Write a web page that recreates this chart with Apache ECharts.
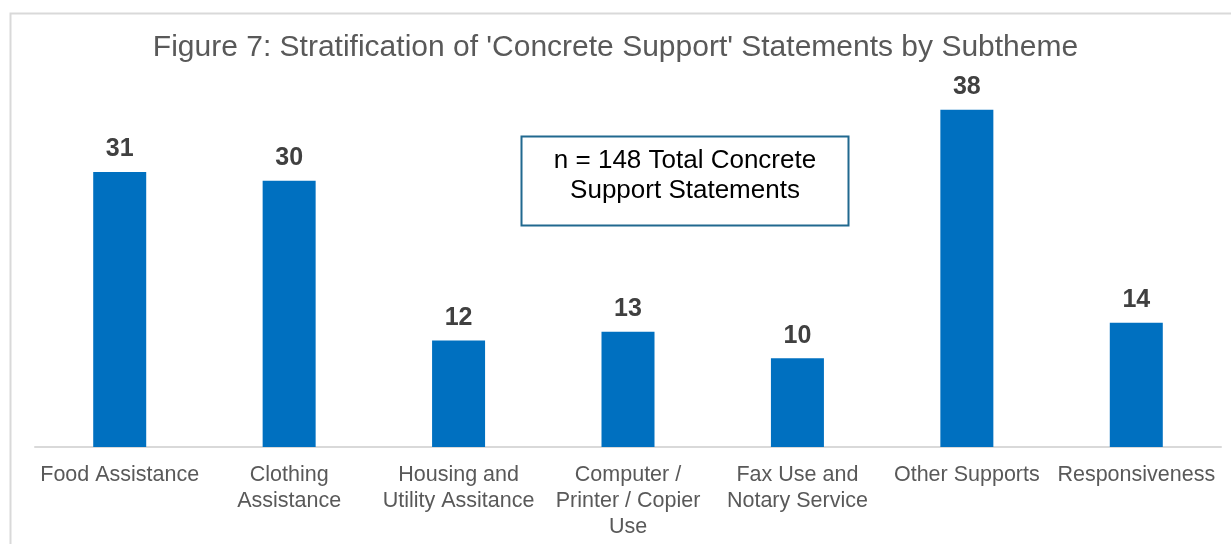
<!DOCTYPE html>
<html>
<head>
<meta charset="utf-8">
<script src="https://cdn.jsdelivr.net/npm/echarts@6/dist/echarts.min.js"></script>
<style>
  html, body { margin: 0; padding: 0; background: #fff; }
  #chart { width: 1231px; height: 544px; }
</style>
</head>
<body>
<div id="chart"></div>
<script>
// Subtheme categories (line breaks as shown on the axis)
const categories = [
  'Food Assistance',
  'Clothing\nAssistance',
  'Housing and\nUtility Assitance',
  'Computer /\nPrinter / Copier\nUse',
  'Fax Use and\nNotary Service',
  'Other Supports',
  'Responsiveness'
];
// Number of statements per subtheme
const counts = [31, 30, 12, 13, 10, 38, 14];

const titleText = "Figure 7: Stratification of 'Concrete Support' Statements by Subtheme";
const noteLines = ['n = 148 Total Concrete', 'Support Statements'];

const chart = echarts.init(document.getElementById('chart'), null, { renderer: 'canvas' });

chart.setOption({
  animation: false,
  backgroundColor: '#fff',
  title: {
    text: titleText,
    left: 'center',
    top: 28,
    textStyle: {
      fontFamily: 'Liberation Sans, Arial, sans-serif',
      fontSize: 30,
      fontWeight: 'normal',
      color: '#595959'
    }
  },
  grid: { left: 35, right: 10, top: 92, bottom: 97 },
  xAxis: {
    type: 'category',
    data: categories,
    axisLine: { show: true, lineStyle: { color: '#D9D9D9', width: 2 } },
    axisTick: { show: false },
    axisLabel: {
      interval: 0,
      margin: 15,
      fontFamily: 'Liberation Sans, Arial, sans-serif',
      fontSize: 21.5,
      lineHeight: 26,
      color: '#595959'
    }
  },
  yAxis: {
    type: 'value',
    min: 0,
    max: 40,
    show: false,
    splitLine: { show: false }
  },
  series: [{
    type: 'bar',
    data: counts,
    barWidth: 53,
    itemStyle: { color: '#0070C0' },
    label: {
      show: true,
      position: 'top',
      distance: 10,
      fontFamily: 'Liberation Sans, Arial, sans-serif',
      fontSize: 25,
      fontWeight: 'bold',
      color: '#404040'
    }
  }],
  graphic: [
    {
      type: 'rect',
      silent: true,
      shape: { x: 10.5, y: 13.5, width: 1240, height: 560 },
      style: { fill: 'none', stroke: '#D9D9D9', lineWidth: 2 }
    },
    {
      type: 'rect',
      silent: true,
      shape: { x: 521.5, y: 136.5, width: 327, height: 89 },
      style: { fill: '#fff', stroke: '#21698F', lineWidth: 2 },
      z: 10
    },
    {
      type: 'text',
      silent: true,
      x: 685,
      y: 176,
      z: 11,
      style: {
        text: noteLines.join('\n'),
        fontFamily: 'Liberation Sans, Arial, sans-serif',
        fontSize: 26,
        lineHeight: 30,
        fill: '#000',
        align: 'center',
        verticalAlign: 'middle'
      }
    }
  ]
});
</script>
</body>
</html>
